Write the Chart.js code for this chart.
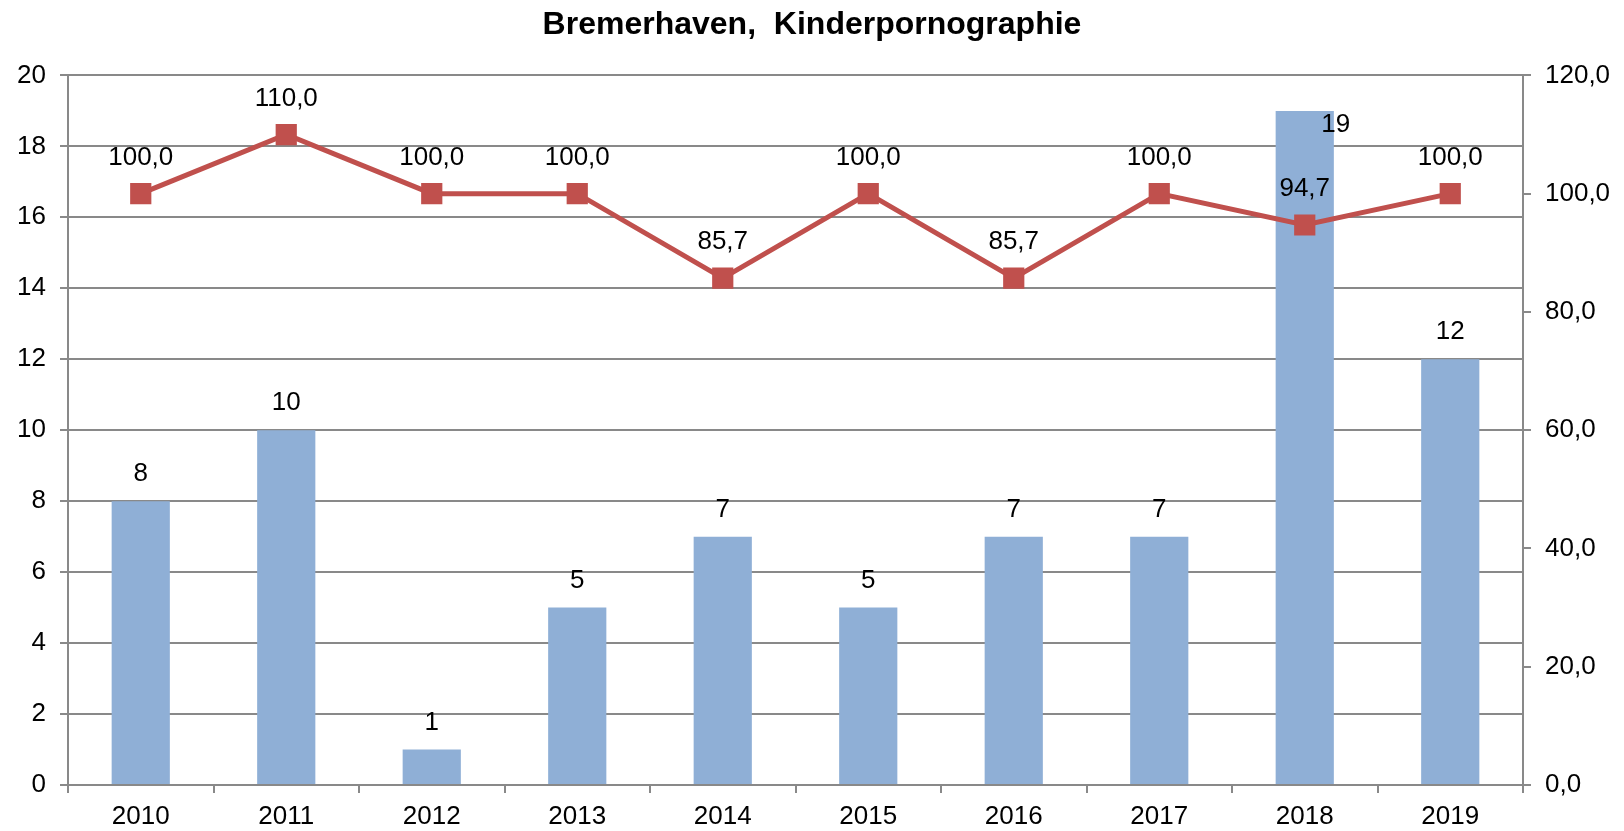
<!DOCTYPE html>
<html>
<head>
<meta charset="utf-8">
<script src="https://cdn.jsdelivr.net/npm/chart.js@4.4.1/dist/chart.umd.min.js"></script>
<style>
  body { margin: 0; background: #fff; }
  #wrap { width: 1624px; height: 831px; }
</style>
</head>
<body>
<div id="wrap"><canvas id="chart" width="1624" height="831"></canvas></div>
<script>
const years = ['2010', '2011', '2012', '2013', '2014', '2015', '2016', '2017', '2018', '2019'];
const cases = [8, 10, 1, 5, 7, 5, 7, 7, 19, 12];
const clearanceRate = [100.0, 110.0, 100.0, 100.0, 85.7, 100.0, 85.7, 100.0, 94.7, 100.0];

const axisGray = '#898989';
const fontFamily = "'Liberation Sans', Arial, sans-serif";

// labels over bars and points, drawn after datasets
const valueLabels = {
    id: 'valueLabels',
    afterDatasetsDraw(chart) {
        const ctx = chart.ctx;
        ctx.save();
        ctx.font = '26px ' + fontFamily;
        ctx.fillStyle = '#000';
        ctx.textAlign = 'center';
        ctx.textBaseline = 'middle';
        chart.data.datasets.forEach((ds, i) => {
            const meta = chart.getDatasetMeta(i);
            const isLine = meta.type === 'line';
            meta.data.forEach((el, j) => {
                const v = ds.data[j];
                const text = isLine ? v.toFixed(1).replace('.', ',') : String(v);
                let x = el.x;
                let y = el.y - (isLine ? 36 : 27);
                if (!isLine && y < chart.chartArea.top + 20) {
                    // no room above the bar: put it inside, like Excel did
                    x += 31;
                    y = el.y + 14;
                }
                ctx.fillText(text, x, y);
            });
        });
        ctx.restore();
    }
};

new Chart(document.getElementById('chart').getContext('2d'), {
    data: {
        labels: years,
        datasets: [
            {
                type: 'line',
                data: clearanceRate,
                yAxisID: 'y2',
                borderColor: '#C0504D',
                backgroundColor: '#C0504D',
                borderWidth: 5,
                pointStyle: 'rect',
                pointRadius: 15,
                pointBorderWidth: 0,
                tension: 0,
                order: 0
            },
            {
                type: 'bar',
                data: cases,
                yAxisID: 'y',
                backgroundColor: '#8FAFD6',
                barPercentage: 0.4,
                categoryPercentage: 1,
                order: 1
            }
        ]
    },
    options: {
        responsive: false,
        animation: false,
        layout: { padding: 0 },
        plugins: {
            legend: { display: false },
            tooltip: { enabled: false },
            title: {
                display: true,
                text: 'Bremerhaven,  Kinderpornographie',
                color: '#000',
                font: { family: fontFamily, size: 32, weight: 'bold' },
                padding: { top: 6, bottom: 31 }
            }
        },
        scales: {
            x: {
                offset: true,
                grid: {
                    offset: true,
                    drawOnChartArea: false,
                    color: axisGray,
                    lineWidth: 2,
                    tickLength: 8
                },
                border: { color: axisGray, width: 2 },
                ticks: {
                    color: '#000',
                    font: { family: fontFamily, size: 26 },
                    padding: 8,
                    maxRotation: 0
                },
                afterFit(scale) { scale.height = 46; }
            },
            y: {
                position: 'left',
                min: 0,
                max: 20,
                ticks: {
                    stepSize: 2,
                    color: '#000',
                    font: { family: fontFamily, size: 26 },
                    padding: 14
                },
                grid: { color: axisGray, lineWidth: 2, tickLength: 8 },
                border: { color: axisGray, width: 2 },
                afterFit(scale) { scale.width = 68; }
            },
            y2: {
                position: 'right',
                min: 0,
                max: 120,
                ticks: {
                    stepSize: 20,
                    color: '#000',
                    font: { family: fontFamily, size: 26 },
                    padding: 14,
                    callback: v => v.toFixed(1).replace('.', ',')
                },
                grid: { drawOnChartArea: false, color: axisGray, lineWidth: 2, tickLength: 8 },
                border: { color: axisGray, width: 2 },
                afterFit(scale) { scale.width = 101; }
            }
        }
    },
    plugins: [valueLabels]
});
</script>
</body>
</html>
